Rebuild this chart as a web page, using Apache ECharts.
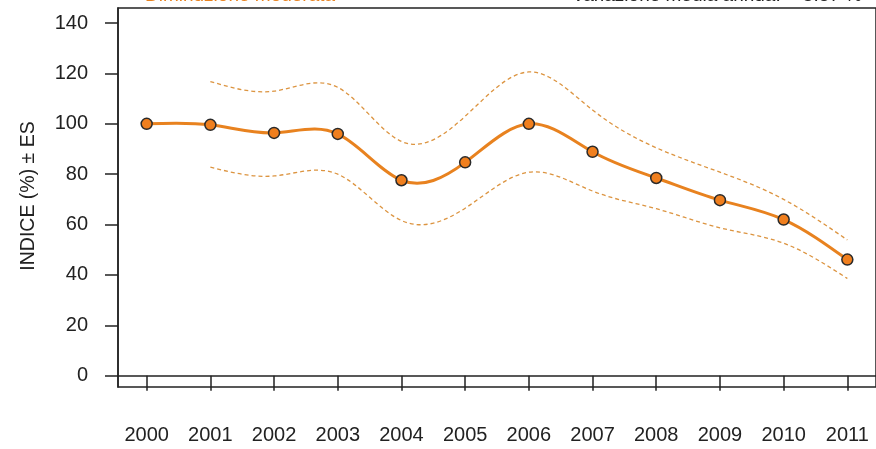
<!DOCTYPE html>
<html>
<head>
<meta charset="utf-8">
<script src="https://cdn.jsdelivr.net/npm/echarts@6/dist/echarts.min.js"></script>
<style>
  html, body { margin: 0; padding: 0; background: #fff; }
  #chart { width: 876px; height: 449px; }
</style>
</head>
<body>
<div id="chart"></div>
<script>
// Index series (2000 = 100) with upper/lower standard-error bands
const years = [2000, 2001, 2002, 2003, 2004, 2005, 2006, 2007, 2008, 2009, 2010, 2011];
const indexValues = [100, 99.6, 96.4, 96.0, 77.6, 84.7, 100, 88.9, 78.5, 69.7, 62.0, 46.1];
const bandYears = [2001, 2002, 2003, 2004, 2005, 2006, 2007, 2008, 2009, 2010, 2011];
const upperValues = [116.8, 113.0, 114.5, 93.0, 103.0, 120.6, 105.5, 90.5, 80.8, 70.0, 53.9];
const lowerValues = [82.8, 79.3, 80.0, 61.6, 66.5, 80.8, 73.3, 66.3, 58.7, 52.6, 38.6];
const yTicks = [0, 20, 40, 60, 80, 100, 120, 140];

const pairs = (xs, ys) => xs.map((x, i) => [x, ys[i]]);

const FONT = 'Liberation Sans, Arial, sans-serif';
const ORANGE = '#E8821F';
const DASH = '#DC9440';

// Natural cubic spline through pixel points, written as an SVG path of Bezier segments
function splinePath(pts) {
  const n = pts.length;
  if (n < 2) return '';
  const h = [], d = [];
  for (let i = 0; i < n - 1; i++) {
    h.push(pts[i + 1][0] - pts[i][0]);
    d.push((pts[i + 1][1] - pts[i][1]) / h[i]);
  }
  // second derivatives M (natural ends: M0 = Mn = 0), Thomas algorithm
  const M = new Array(n).fill(0);
  if (n > 2) {
    const a = [], b = [], c = [], r = [];
    for (let i = 1; i < n - 1; i++) {
      a.push(h[i - 1]); b.push(2 * (h[i - 1] + h[i])); c.push(h[i]);
      r.push(6 * (d[i] - d[i - 1]));
    }
    const m = b.length;
    for (let i = 1; i < m; i++) {
      const w = a[i] / b[i - 1];
      b[i] -= w * c[i - 1];
      r[i] -= w * r[i - 1];
    }
    const sol = new Array(m);
    sol[m - 1] = r[m - 1] / b[m - 1];
    for (let i = m - 2; i >= 0; i--) sol[i] = (r[i] - c[i] * sol[i + 1]) / b[i];
    for (let i = 0; i < m; i++) M[i + 1] = sol[i];
  }
  let path = 'M' + pts[0][0] + ' ' + pts[0][1];
  for (let i = 0; i < n - 1; i++) {
    const s0 = d[i] - h[i] * (2 * M[i] + M[i + 1]) / 6;
    const s1 = d[i] + h[i] * (M[i] + 2 * M[i + 1]) / 6;
    const x0 = pts[i][0], y0 = pts[i][1], x1 = pts[i + 1][0], y1 = pts[i + 1][1];
    path += ' C' + (x0 + h[i] / 3) + ' ' + (y0 + s0 * h[i] / 3) + ' ' +
            (x1 - h[i] / 3) + ' ' + (y1 - s1 * h[i] / 3) + ' ' + x1 + ' ' + y1;
  }
  return path;
}

// Custom series that draws one smooth curve through all its data points
function curveSeries(xs, ys, lineStyle, z) {
  return {
    type: 'custom',
    data: pairs(xs, ys),
    z: z,
    silent: true,
    clip: true,
    renderItem: function (params, api) {
      if (params.dataIndex !== 0) return null;
      const pts = xs.map((x, i) => api.coord([x, ys[i]]));
      return {
        type: 'path',
        shape: { pathData: splinePath(pts) },
        style: Object.assign({ fill: 'none' }, lineStyle)
      };
    }
  };
}

const chart = echarts.init(document.getElementById('chart'), null, { renderer: 'canvas' });

chart.setOption({
  animation: false,
  backgroundColor: '#ffffff',
  grid: {
    left: 118, top: 8, right: -6, bottom: 62,
    show: true, borderColor: '#222', borderWidth: 1.5, backgroundColor: 'transparent'
  },
  xAxis: {
    type: 'value',
    min: 1999.55, max: 2011.45,
    splitLine: { show: false },
    axisLine: { show: true, lineStyle: { color: '#222', width: 1.5 } },
    axisTick: { show: true, inside: false, length: 15, customValues: years,
                lineStyle: { color: '#222', width: 1.5 } },
    axisLabel: { show: true, customValues: years, margin: 38,
                 color: '#222', fontSize: 20, fontFamily: FONT,
                 formatter: v => String(Math.round(v)) }
  },
  yAxis: {
    type: 'value',
    min: -4.5, max: 146,
    splitLine: { show: false },
    axisLine: { show: true, lineStyle: { color: '#222', width: 1.5 } },
    axisTick: { show: true, inside: false, length: 13, customValues: yTicks,
                lineStyle: { color: '#222', width: 1.5 } },
    axisLabel: { show: true, customValues: yTicks, margin: 30,
                 color: '#222', fontSize: 20, fontFamily: FONT }
  },
  graphic: [
    {
      type: 'text', x: 29, y: 196, rotation: Math.PI / 2,
      style: { text: 'INDICE (%) ± ES', fill: '#222', fontSize: 19.5, fontFamily: FONT,
               align: 'center', verticalAlign: 'middle' }
    },
    {
      type: 'text', x: 145, y: 5,
      style: { text: 'Diminuzione moderata', fill: ORANGE, fontSize: 19, fontFamily: FONT,
               align: 'left', verticalAlign: 'bottom' }
    },
    {
      type: 'text', x: 862, y: 5,
      style: { text: 'Variazione media annua:   -5.87 %', fill: '#222', fontSize: 19, fontFamily: FONT,
               align: 'right', verticalAlign: 'bottom' }
    }
  ],
  series: [
    curveSeries(bandYears, upperValues, { stroke: DASH, lineWidth: 1.3, lineDash: [4, 3] }, 2),
    curveSeries(bandYears, lowerValues, { stroke: DASH, lineWidth: 1.3, lineDash: [4, 3] }, 2),
    curveSeries(years, indexValues, { stroke: ORANGE, lineWidth: 3 }, 3),
    {
      name: 'indice', type: 'scatter', data: pairs(years, indexValues),
      symbol: 'circle', symbolSize: 11,
      itemStyle: { color: '#F07F1E', borderColor: '#2a2a2a', borderWidth: 1.5, opacity: 1 }, z: 4
    }
  ]
});
</script>
</body>
</html>
